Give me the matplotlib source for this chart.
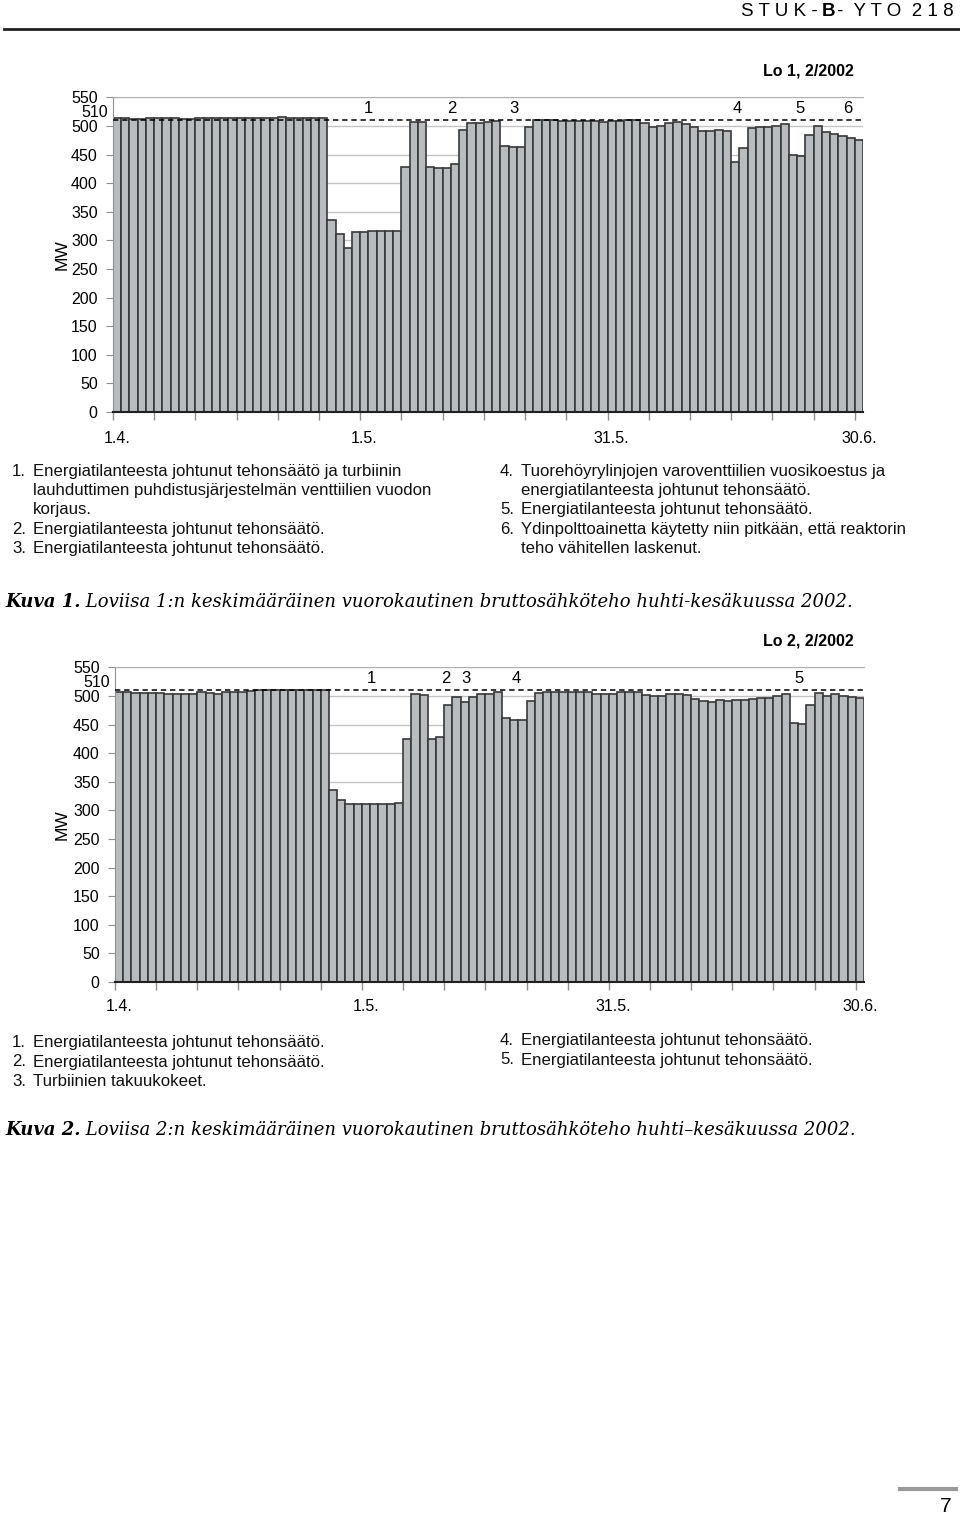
import matplotlib
matplotlib.use("Agg")
import matplotlib.pyplot as plt
import numpy as np

# daily mean gross electric power, 1.4. - 30.6.2002 (MW)
lo1_mw = [514, 514, 513, 513, 514, 514, 514, 514, 513, 513, 514, 514, 514,
          514, 514, 514, 514, 514, 514, 515, 516, 515, 514, 514, 514, 514,
          335, 311, 287, 314, 315, 316, 316, 316, 316,
          428, 507, 507, 428, 427, 426, 433, 493, 505, 505, 507, 509, 466,
          463, 463, 498, 511, 510,
          510, 509, 509, 509, 509, 509, 508, 509,
          509, 510, 510, 506, 499, 500, 506, 507, 504, 498, 492, 492, 493,
          492, 437, 461, 496, 498, 498, 501, 503, 450, 447, 485, 500, 490,
          486, 483, 480, 475]

lo2_mw = [506, 507, 505, 505, 505, 505, 504, 504, 504, 503, 506, 505, 503,
          506, 506, 507, 509, 510, 510, 510, 510, 510, 510, 510, 510, 510,
          336, 318, 311, 311, 311, 311, 311, 311, 312,
          424, 503, 502, 424, 428, 484, 498, 489, 498, 504, 504, 506, 462,
          458, 458, 491, 505, 507, 507, 507, 507, 507, 506, 504, 503, 504,
          507, 507, 507,
          502, 499, 499, 503, 504, 501, 495, 491, 490, 492, 491, 492, 492,
          494, 497, 497, 500, 503, 453, 451, 484, 505, 500, 503, 499, 498,
          496]

nominal_mw = 510
date_labels = ["1.4.", "1.5.", "31.5.", "30.6."]
date_days = [0, 30, 60, 90]

notes1_left = [("1.", "Energiatilanteesta johtunut tehonsäätö ja turbiinin"),
               ("", "lauhduttimen puhdistusjärjestelmän venttiilien vuodon"),
               ("", "korjaus."),
               ("2.", "Energiatilanteesta johtunut tehonsäätö."),
               ("3.", "Energiatilanteesta johtunut tehonsäätö.")]
notes1_right = [("4.", "Tuorehöyrylinjojen varoventtiilien vuosikoestus ja"),
                ("", "energiatilanteesta johtunut tehonsäätö."),
                ("5.", "Energiatilanteesta johtunut tehonsäätö."),
                ("6.", "Ydinpolttoainetta käytetty niin pitkään, että reaktorin"),
                ("", "teho vähitellen laskenut.")]
notes2_left = [("1.", "Energiatilanteesta johtunut tehonsäätö."),
               ("2.", "Energiatilanteesta johtunut tehonsäätö."),
               ("3.", "Turbiinien takuukokeet.")]
notes2_right = [("4.", "Energiatilanteesta johtunut tehonsäätö."),
                ("5.", "Energiatilanteesta johtunut tehonsäätö.")]

W, H = 960, 1516
fig = plt.figure(figsize=(W / 100, H / 100), dpi=100)

TICK_FONT = ["Liberation Sans", "DejaVu Sans"]
TEXT_FONT = ["Liberation Sans", "DejaVu Sans"]
SERIF = ["DejaVu Serif"]


def fx(x):
    return x / W


def fy(y):
    return 1 - y / H


def draw_chart(rect, values, event_marks, title, xpad):
    left, top, right, bottom = rect
    ax = fig.add_axes([fx(left), fy(bottom), fx(right - left), (bottom - top) / H])
    days = np.arange(len(values))
    ax.bar(days, values, width=1.0, color="#b9bcbf", edgecolor="#383838",
           linewidth=1.2, zorder=2)
    ax.axhline(nominal_mw, color="black", linestyle=(0, (3.5, 2.5)),
               linewidth=1.1, zorder=3)
    ax.set_xlim(-0.5, len(values) - 0.5)
    ax.set_ylim(0, 550)
    ax.set_yticks(np.arange(0, 551, 50))
    ax.grid(axis="y", color="#c4c4c4", linewidth=1.0, zorder=0)
    ax.set_axisbelow(True)
    ax.spines["right"].set_visible(False)
    ax.spines["top"].set_color("#b0b0b0")
    ax.spines["left"].set_color("#909090")
    ax.spines["bottom"].set_color("#202020")
    ax.spines["bottom"].set_linewidth(1.5)
    ax.tick_params(axis="y", length=5, color="#909090", pad=6, labelsize=11.5)
    for lab in ax.get_yticklabels():
        lab.set_family(TICK_FONT)
    ax.text(-0.007, nominal_mw + 14, str(nominal_mw), transform=ax.get_yaxis_transform(),
            ha="right", va="center", fontsize=11.5, family=TICK_FONT)
    ax.set_xticks(date_days)
    ax.set_xticklabels(date_labels, fontsize=11.5, family=TICK_FONT)
    ax.tick_params(axis="x", which="major", length=0, pad=xpad)
    ax.set_xticks(np.arange(-0.5, len(values), 5), minor=True)
    ax.tick_params(axis="x", which="minor", length=6, color="#909090", width=1)
    for lab, xpos in event_marks:
        ax.text(xpos, 530, lab, ha="center", va="center", fontsize=12,
                family=TICK_FONT, zorder=4)
    mid = (top + bottom) / 2
    fig.text(fx(62), fy(mid), "MW", rotation=90, ha="center", va="center",
             fontsize=12.5, family=TEXT_FONT)
    fig.text(fx(854), fy(top - 26), title, ha="right", va="center",
             fontsize=11.5, fontweight="bold", family=TEXT_FONT)
    return ax


def notes(items, x_num, x_text, y0, step):
    for k, (num, txt) in enumerate(items):
        y = y0 + k * step
        if num:
            fig.text(fx(x_num), fy(y), num, ha="left", va="baseline",
                     fontsize=12.1, family=TEXT_FONT, color="#111111")
        fig.text(fx(x_text), fy(y), txt, ha="left", va="baseline",
                 fontsize=12.1, family=TEXT_FONT, color="#111111")


def caption(bold_part, rest, x, y, size):
    renderer = fig.canvas.get_renderer()
    t = fig.text(fx(x), fy(y), bold_part, ha="left", va="baseline", fontsize=size,
                 family=SERIF, style="italic", fontweight="bold")
    bb = t.get_window_extent(renderer=renderer)
    fig.text(bb.x1 / W, fy(y), rest, ha="left", va="baseline", fontsize=size,
             family=SERIF, style="italic")


draw_chart((113, 97.5, 863, 412), lo1_mw,
           [("1", 30.5), ("2", 40.6), ("3", 48.2), ("4", 75.2), ("5", 82.9), ("6", 88.6)],
           "Lo 1, 2/2002", 14)
draw_chart((115, 667.3, 864, 982), lo2_mw,
           [("1", 30.6), ("2", 39.7), ("3", 42.1), ("4", 48.3), ("5", 82.6)],
           "Lo 2, 2/2002", 12.5)

notes(notes1_left, 12, 33, 476, 19.2)
notes(notes1_right, 500, 521, 476, 19.2)
notes(notes2_left, 12, 33, 1047, 19.5)
notes(notes2_right, 500, 521, 1045, 19.5)

caption("Kuva 1.", " Loviisa 1:n keskimääräinen vuorokautinen bruttosähköteho huhti-kesäkuussa 2002.",
        5, 607, 13)
caption("Kuva 2.", " Loviisa 2:n keskimääräinen vuorokautinen bruttosähköteho huhti–kesäkuussa 2002.",
        5, 1135, 13)

# page header and footer
fig.add_artist(plt.Line2D([fx(4), fx(960)], [fy(29), fy(29)], color="#222222", linewidth=2))
fig.text(fx(818), fy(11), "S T U K -", ha="right", va="center", fontsize=13.5, family=TEXT_FONT)
fig.text(fx(828.5), fy(11), "B", ha="center", va="center", fontsize=13.5,
         fontweight="bold", family=TEXT_FONT)
fig.text(fx(837), fy(11), "-  Y T O  2 1 8", ha="left", va="center", fontsize=13.5,
         family=TEXT_FONT)
fig.add_artist(plt.Line2D([fx(900), fx(956)], [fy(1489), fy(1489)], color="#9a9a9a", linewidth=3))
fig.text(fx(946), fy(1506), "7", ha="center", va="center", fontsize=15, family=TEXT_FONT)

fig.savefig("out.png", dpi=100)
